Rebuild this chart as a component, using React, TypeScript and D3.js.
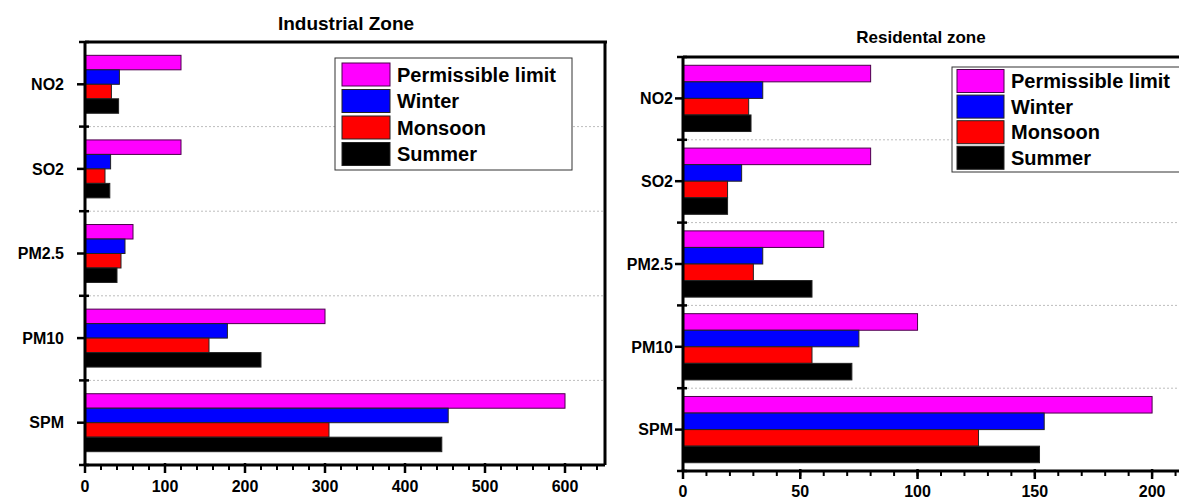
import React from "react";
import * as d3 from "d3";

const categories = ["NO2", "SO2", "PM2.5", "PM10", "SPM"];
const seriesNames = ["Permissible limit", "Winter", "Monsoon", "Summer"];
const seriesColors = ["#FF00FF", "#0000FF", "#FF0000", "#000000"];

const industrialPermissible = [120, 120, 60, 300, 600];
const industrialWinter = [43, 32, 50, 178, 454];
const industrialMonsoon = [33, 25, 45, 155, 305];
const industrialSummer = [42, 31, 40, 220, 446];

const residentialPermissible = [80, 80, 60, 100, 200];
const residentialWinter = [34, 25, 34, 75, 154];
const residentialMonsoon = [28, 19, 30, 55, 126];
const residentialSummer = [29, 19, 55, 72, 152];

const industrialTicks = [0, 100, 200, 300, 400, 500, 600];
const residentialTicks = [0, 50, 100, 150, 200];

const FONT = "'Liberation Sans', Arial, sans-serif";

type PanelProps = {
  title: string;
  titleX: number;
  titleY: number;
  titleSize: number;
  values: number[][];
  xDomain: [number, number];
  xRange: [number, number];
  yRange: [number, number];
  ticks: number[];
  minorStep: number;
  outerPad: number;
  labelGap: number;
  tickLabelY: number;
  rightBorder: boolean;
  legend: { x: number; y: number; w: number; h: number; sx: number; sw: number; sy: number; pitch: number; sh: number };
};

function Panel(p: PanelProps) {
  const x = d3.scaleLinear().domain(p.xDomain).range(p.xRange);
  const y = d3.scaleBand<string>().domain(categories).range(p.yRange).paddingInner(0).paddingOuter(0);
  const inner = d3
    .scaleBand<string>()
    .domain(seriesNames)
    .range([0, y.bandwidth()])
    .paddingInner(0)
    .paddingOuter(p.outerPad);
  const [x0, x1] = p.xRange;
  const [y0, y1] = p.yRange;
  const minor = d3.range(p.xDomain[0], p.xDomain[1] + 0.001, p.minorStep);
  const boundaries = d3.range(categories.length + 1).map((i) => y0 + i * y.bandwidth());
  const L = p.legend;
  return (
    <g>
      <text x={p.titleX} y={p.titleY} textAnchor="middle" fontFamily={FONT} fontWeight="bold" fontSize={p.titleSize} fill="#000">
        {p.title}
      </text>
      {/* grid lines */}
      {boundaries.slice(1, -1).map((b, i) => (
        <line key={"g" + i} x1={x0} x2={x1} y1={b} y2={b} stroke="#bdbdbd" strokeWidth={1} strokeDasharray="2,2" />
      ))}
      {/* bars */}
      {categories.map((c, ci) =>
        seriesNames.map((s, si) => (
          <rect
            key={c + s}
            x={x(0)}
            y={(y(c) as number) + (inner(s) as number)}
            width={x(p.values[si][ci]) - x(0)}
            height={inner.bandwidth()}
            fill={seriesColors[si]}
            stroke={si === 0 ? "#4a004a" : "#222"}
            strokeWidth={1}
          />
        ))
      )}
      {/* frame */}
      <line x1={x0} x2={x1 + 2} y1={y0} y2={y0} stroke="#000" strokeWidth={3} />
      {p.rightBorder && <line x1={x1} x2={x1} y1={y0} y2={y1} stroke="#000" strokeWidth={3} />}
      <line x1={x0} x2={x1} y1={y1} y2={y1} stroke="#000" strokeWidth={3} />
      <line x1={x0} x2={x0} y1={y0 - 1} y2={y1 + 1} stroke="#000" strokeWidth={3} />
      {/* y ticks */}
      {categories.map((c) => {
        const cy = (y(c) as number) + y.bandwidth() / 2;
        return (
          <g key={"yt" + c}>
            <line x1={x0 - 8} x2={x0} y1={cy} y2={cy} stroke="#000" strokeWidth={2.5} />
            <text x={x0 - p.labelGap} y={cy} dy="0.36em" textAnchor="end" fontFamily={FONT} fontWeight="bold" fontSize={16} fill="#000">
              {c}
            </text>
          </g>
        );
      })}
      {boundaries.map((b, i) => (
        <line key={"bt" + i} x1={x0 - 6} x2={x0 + 4} y1={b} y2={b} stroke="#000" strokeWidth={2.5} />
      ))}
      {/* x ticks */}
      {minor.map((v, i) => (
        <line key={"mn" + i} x1={x(v)} x2={x(v)} y1={y1} y2={y1 + 5} stroke="#000" strokeWidth={2} />
      ))}
      {p.ticks.map((t) => (
        <g key={"xt" + t}>
          <line x1={x(t)} x2={x(t)} y1={y1 - 2} y2={y1 + 8} stroke="#000" strokeWidth={2.5} />
          <text x={x(t)} y={p.tickLabelY} textAnchor="middle" fontFamily={FONT} fontWeight="bold" fontSize={16} fill="#000">
            {t}
          </text>
        </g>
      ))}
      {/* legend */}
      <rect x={L.x} y={L.y} width={L.w} height={L.h} fill="#fff" stroke="#333" strokeWidth={1} />
      {seriesNames.map((s, i) => (
        <g key={"lg" + s}>
          <rect x={L.sx} y={L.sy + i * L.pitch} width={L.sw} height={L.sh} fill={seriesColors[i]} stroke={i === 0 ? "#4a004a" : "#222"} strokeWidth={1} />
          <text x={L.sx + L.sw + 7} y={L.sy + i * L.pitch + L.sh / 2} dy="0.36em" fontFamily={FONT} fontWeight="bold" fontSize={20} fill="#000">
            {s}
          </text>
        </g>
      ))}
    </g>
  );
}

export default function App() {
  return (
    <svg width={1179} height={499} style={{ position: "absolute", left: 0, top: 0, background: "#fff" }}>
      <rect x={0} y={0} width={1179} height={499} fill="#fff" />
      <Panel
        title="Industrial Zone"
        titleX={346}
        titleY={30}
        titleSize={19}
        values={[industrialPermissible, industrialWinter, industrialMonsoon, industrialSummer]}
        xDomain={[0, 650]}
        xRange={[85, 605]}
        yRange={[42, 465]}
        ticks={industrialTicks}
        minorStep={20}
        outerPad={0.92}
        labelGap={21}
        tickLabelY={492}
        rightBorder={true}
        legend={{ x: 335, y: 58, w: 237, h: 112, sx: 342, sw: 48, sy: 63, pitch: 26.5, sh: 23 }}
      />
      <Panel
        title="Residental zone"
        titleX={921}
        titleY={43}
        titleSize={17}
        values={[residentialPermissible, residentialWinter, residentialMonsoon, residentialSummer]}
        xDomain={[0, 220]}
        xRange={[683, 1199]}
        yRange={[57, 471]}
        ticks={residentialTicks}
        minorStep={10}
        outerPad={0.5}
        labelGap={10}
        tickLabelY={497}
        rightBorder={true}
        legend={{ x: 952, y: 67, w: 240, h: 105, sx: 957, sw: 47, sy: 69.5, pitch: 25.6, sh: 23 }}
      />
    </svg>
  );
}
